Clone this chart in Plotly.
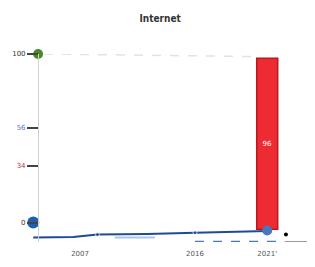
import plotly.graph_objects as go

# Data
bar_years = [2021]
bar_values = [97.5]
bar_base = [-4.0]
bar_labels = ["96"]

line_years = [2003.5, 2006.5, 2008.3, 2012.0, 2015.6, 2021.0]
line_values = [-8.9, -8.6, -7.1, -6.8, -6.0, -5.0]

pale_years = [2009.6, 2012.6]
pale_values = [-8.9, -8.9]

light_years = [2015.6, 2022.3]
light_values = [-11.2, -11.2]
gray_years = [2022.3, 2024.2]
gray_values = [-11.2, -11.2]

end_x = [2021.0]
end_y = [-4.7]

dot_blue_x = [2003.5]
dot_blue_y = [0]
dot_green_x = [2003.86]
dot_green_y = [100]
black_x = [2022.4]
black_y = [-7.1]

x_tickvals = [2007, 2015.6, 2021]
x_ticktext = ["2007", "2016", "2021'"]
y_tickvals = [0, 33.7, 56.2, 100]
y_ticktext = ["0", "<span style='color:#b0304a'>34</span>",
              "<span style='color:#5a78c8'>56</span>", "100"]

fig = go.Figure()

fig.add_trace(go.Scatter(x=[2004.3, 2020.0], y=[100, 98.5], mode="lines",
                         line=dict(color="#e2e2e2", width=1.5, dash="dash"),
                         hoverinfo="skip", showlegend=False))

fig.add_trace(go.Bar(x=bar_years, y=[v - b for v, b in zip(bar_values, bar_base)],
                     base=bar_base, width=1.57,
                     marker=dict(color="#ee2a33", line=dict(color="#b81820", width=1.5)),
                     text=bar_labels, textposition="inside", insidetextanchor="middle",
                     textangle=0,
                     textfont=dict(color="white", size=7), showlegend=False))

fig.add_trace(go.Scatter(x=light_years, y=light_values, mode="lines",
                         line=dict(color="#4a78b8", width=1.5, dash="dash"),
                         cliponaxis=False, showlegend=False))
fig.add_trace(go.Scatter(x=gray_years, y=gray_values, mode="lines",
                         line=dict(color="#9a9a9a", width=1),
                         cliponaxis=False, showlegend=False))
fig.add_trace(go.Scatter(x=pale_years, y=pale_values, mode="lines",
                         line=dict(color="#a8c8e8", width=2),
                         cliponaxis=False, showlegend=False))

fig.add_trace(go.Scatter(x=line_years, y=line_values, mode="lines+markers",
                         line=dict(color="#1f4a96", width=2),
                         marker=dict(size=[0, 0, 4, 0, 4, 0], color="#1f4a96"),
                         cliponaxis=False, showlegend=False))

fig.add_trace(go.Scatter(x=end_x, y=end_y, mode="markers",
                         marker=dict(size=10, color="#4a78b8"),
                         cliponaxis=False, showlegend=False))

fig.add_trace(go.Scatter(x=dot_blue_x, y=dot_blue_y, mode="markers",
                         marker=dict(size=12, color="#1f5fb0"),
                         cliponaxis=False, showlegend=False))
fig.add_trace(go.Scatter(x=dot_green_x, y=dot_green_y, mode="markers",
                         marker=dict(size=10, color="#4a8a2a"),
                         cliponaxis=False, showlegend=False))
fig.add_trace(go.Scatter(x=black_x, y=black_y, mode="markers",
                         marker=dict(size=4, color="black"),
                         cliponaxis=False, showlegend=False))

fig.update_layout(
    width=315, height=267,
    margin=dict(l=23, r=13, t=46, b=33, autoexpand=False),
    paper_bgcolor="white", plot_bgcolor="white",
    title=dict(text="<b>Internet</b>", x=0.483, xanchor="center", y=1 - 10 / 267,
               yanchor="middle",
               font=dict(family="DejaVu Sans Condensed", size=10, color="#333")),
    font=dict(family="DejaVu Sans", size=7, color="#444"),
)
fig.update_xaxes(range=[2003.33, 2024.2], tickvals=x_tickvals, ticktext=x_ticktext,
                 showgrid=False, zeroline=False, showline=False, automargin=False,
                 ticks="", ticklabelstandoff=6, tickfont=dict(size=7, color="#555"))
fig.update_yaxes(range=[-11.5, 100], tickvals=y_tickvals, ticktext=y_ticktext,
                 anchor="free", position=0.025,
                 showgrid=False, zeroline=False, showline=True, linecolor="#d0d0d0",
                 automargin=False,
                 ticks="outside", ticklen=11, tickcolor="#444", tickwidth=1.5,
                 tickfont=dict(size=7, color="#333"))

fig.write_html("out.html")
